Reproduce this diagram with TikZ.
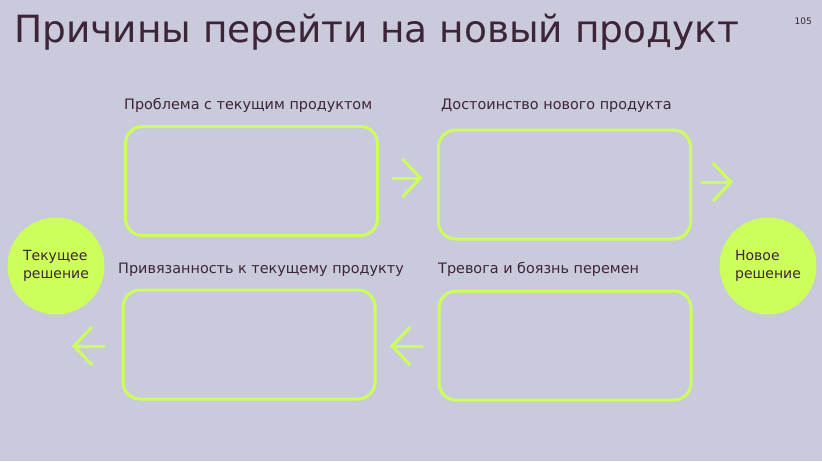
\documentclass[tikz,border=0pt]{standalone}
\usepackage{fontspec}
\setmainfont{DejaVu Sans}
\usepackage{xcolor}
\usetikzlibrary{arrows.meta,positioning}
\definecolor{slidebg}{HTML}{C9CADB}
\definecolor{lime}{HTML}{CCFF5C}
\definecolor{plum}{HTML}{3E2437}

\begin{document}
\begin{tikzpicture}[x=1pt, y=-1pt, every node/.style={text=plum, inner sep=0pt}, card/.style={draw=lime, line width=3pt, rounded corners=17pt, minimum width=252pt, minimum height=109pt}, lbl/.style={font=\fontsize{14.4}{17}\selectfont, anchor=base west}, dot/.style={circle, fill=lime, minimum size=97pt, align=left, font=\fontsize{14}{17.5}\selectfont}, arr/.style={draw=lime, line width=3pt, -{Straight Barb[length=18pt, width=38pt]}}]
\fill[slidebg] (0,0) rectangle (822,461);
\useasboundingbox (0,0) rectangle (822,461);
\node[anchor=base west, font=\fontsize{37.5}{40}\selectfont] (title) at (14,42.5) {Причины перейти на новый продукт};
\node[anchor=base east, font=\fontsize{9}{10}\selectfont] (page) at (812,24) {105};
\node[card] (prob) at (251.5,181) {};
\node[card] (adv) at (564.5,184.5) {};
\node[card] (habit) at (249,344.5) {};
\node[card] (anx) at (565,345.5) {};
\node[lbl] (probl) at (124,109.5) {Проблема с текущим продуктом};
\node[lbl] (advl) at (441,109.5) {Достоинство нового продукта};
\node[lbl] (habitl) at (118,273.5) {Привязанность к текущему продукту};
\node[lbl] (anxl) at (438,273.5) {Тревога и боязнь перемен};
\node[dot] (cur) at (56,266) {Текущее\\решение};
\node[dot] (new) at (768,266) {Новое\\решение};
\coordinate (outr) at (733,182);
\coordinate (outl) at (72,346);
\draw[arr, shorten <=12.5pt, shorten >=14.5pt] ([yshift=3pt]prob.east) -- ([yshift=6.5pt]adv.west);
\draw[arr, shorten <=8.5pt] ([yshift=2.5pt]adv.east) -- (outr);
\draw[arr, shorten <=15pt, shorten >=13.5pt] ([yshift=-0.5pt]anx.west) -- ([yshift=-1.5pt]habit.east);
\draw[arr, shorten <=17pt] ([yshift=-1.5pt]habit.west) -- (outl);
\end{tikzpicture}
\end{document}
